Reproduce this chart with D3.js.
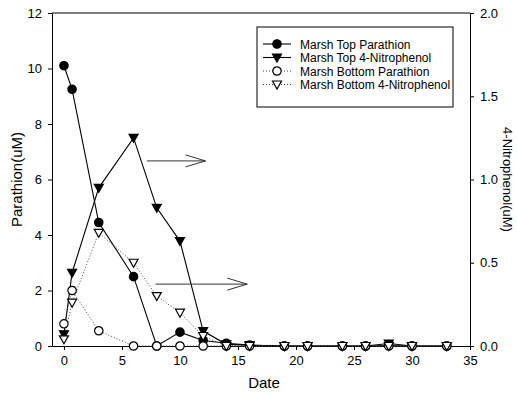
<!DOCTYPE html>
<html>
<head>
<meta charset="utf-8">
<script src="https://cdn.jsdelivr.net/npm/d3@7"></script>
<style>
  body { margin: 0; background: #fff; }
  text { font-family: "Liberation Sans", Arial, sans-serif; fill: #000; }
</style>
</head>
<body>
<svg id="chart" width="517" height="396"></svg>
<script>
// Sampling dates (days)
const dates = [0, 0.7, 3, 6, 8, 10, 12, 14, 16, 19, 21, 24, 26, 28, 30, 33];

// Parathion (uM, left axis)
const topParathion = [10.1, 9.25, 4.45, 2.5, 0, 0.5, 0.2, 0.1, 0.03, 0, 0, 0, 0, 0.02, 0, 0];
const bottomParathion = [0.8, 2.0, 0.55, 0, 0, 0, 0, 0, 0, 0, 0, 0, 0, 0, 0, 0];

// 4-Nitrophenol (uM, right axis)
const topNitrophenol = [0.07, 0.44, 0.95, 1.25, 0.83, 0.63, 0.09, 0.01, 0.005, 0, 0, 0, 0, 0.015, 0, 0];
const bottomNitrophenol = [0.04, 0.26, 0.68, 0.5, 0.3, 0.2, 0.06, 0, 0, 0, 0, 0, 0, 0, 0, 0];

const xTicks = [0, 5, 10, 15, 20, 25, 30, 35];
const leftTicks = [0, 2, 4, 6, 8, 10, 12];
const rightTicks = [0, 0.5, 1.0, 1.5, 2.0];

const svg = d3.select("#chart");
const margin = { top: 13, right: 47, bottom: 50, left: 52 };
const width = +svg.attr("width") - margin.left - margin.right;
const height = +svg.attr("height") - margin.top - margin.bottom;

const g = svg.append("g")
    .attr("transform", `translate(${margin.left},${margin.top})`);

// Scales
const x = d3.scaleLinear().domain([-1.03, 35]).range([0, width]);
const yL = d3.scaleLinear().domain([0, 12]).range([height, 0]);
const yR = d3.scaleLinear().domain([0, 2]).range([height, 0]);

// Frame top
g.append("line")
    .attr("x1", 0).attr("x2", width)
    .attr("y1", 0).attr("y2", 0)
    .attr("stroke", "#000").attr("stroke-width", 1);

// Axes
const xAxis = g.append("g")
    .attr("transform", `translate(0,${height})`)
    .call(d3.axisBottom(x).tickValues(xTicks).tickSize(4).tickSizeOuter(0).tickPadding(6));

const lAxis = g.append("g")
    .call(d3.axisLeft(yL).tickValues(leftTicks).tickSize(4).tickSizeOuter(0).tickPadding(6));

const rAxis = g.append("g")
    .attr("transform", `translate(${width},0)`)
    .call(d3.axisRight(yR).tickValues(rightTicks).tickFormat(d3.format(".1f")).tickSize(4).tickSizeOuter(0).tickPadding(6));

[xAxis, lAxis, rAxis].forEach(a => {
    a.selectAll("text").style("font-size", "13px").style("font-family", "'Liberation Sans', Arial, sans-serif");
    a.selectAll("path, line").attr("stroke", "#000");
});

// Axis labels
svg.append("text")
    .attr("transform", "rotate(-90)")
    .attr("x", -(margin.top + height / 2))
    .attr("y", 22)
    .attr("text-anchor", "middle")
    .style("font-size", "15px")
    .text("Parathion(uM)");

svg.append("text")
    .attr("transform", "rotate(90)")
    .attr("x", margin.top + height / 2)
    .attr("y", -503)
    .attr("text-anchor", "middle")
    .style("font-size", "13px")
    .text("4-Nitrophenol(uM)");

svg.append("text")
    .attr("x", 264)
    .attr("y", 388)
    .attr("text-anchor", "middle")
    .style("font-size", "15px")
    .text("Date");

// Series definitions
const series = [
    { name: "Marsh Top Parathion", values: topParathion, y: yL, filled: true, shape: "circle", dotted: false },
    { name: "Marsh Top 4-Nitrophenol", values: topNitrophenol, y: yR, filled: true, shape: "triangle", dotted: false },
    { name: "Marsh Bottom Parathion", values: bottomParathion, y: yL, filled: false, shape: "circle", dotted: true },
    { name: "Marsh Bottom 4-Nitrophenol", values: bottomNitrophenol, y: yR, filled: false, shape: "triangle", dotted: true }
];

const triPath = "M-4.5,-3.5L4.5,-3.5L0,4.5Z";

function drawMarker(sel, s) {
    if (s.shape === "circle") {
        sel.append("circle").attr("r", 4.2);
    } else {
        sel.append("path").attr("d", triPath);
    }
    sel.selectAll("circle, path")
        .attr("fill", s.filled ? "#000" : "#fff")
        .attr("stroke", "#000")
        .attr("stroke-width", 1.2);
}

// Draw dotted series first, solid ones on top of lines
series.forEach(s => {
    const line = d3.line()
        .x((d, i) => x(dates[i]))
        .y(d => s.y(d));
    g.append("path")
        .datum(s.values)
        .attr("fill", "none")
        .attr("stroke", s.dotted ? "#444" : "#000")
        .attr("stroke-width", s.dotted ? 1 : 1.1)
        .attr("stroke-dasharray", s.dotted ? "1,2" : null)
        .attr("d", line);
});

series.forEach(s => {
    g.selectAll(null)
        .data(s.values)
        .enter()
        .append("g")
        .attr("transform", (d, i) => `translate(${x(dates[i])},${s.y(d)})`)
        .each(function() { drawMarker(d3.select(this), s); });
});

// Arrows pointing to the right axis
const arrows = [
    { x0: 7.15, x1: 12.2, y: 6.67 },
    { x0: 7.9, x1: 15.8, y: 2.23 }
];
arrows.forEach(a => {
    const ax0 = x(a.x0), ax1 = x(a.x1), ay = yL(a.y);
    g.append("line")
        .attr("x1", ax0).attr("x2", ax1)
        .attr("y1", ay).attr("y2", ay)
        .attr("stroke", "#333").attr("stroke-width", 1);
    g.append("path")
        .attr("d", `M${ax1 - 20},${ay - 6}L${ax1},${ay}L${ax1 - 20},${ay + 6}`)
        .attr("fill", "none")
        .attr("stroke", "#333").attr("stroke-width", 1);
});

// Legend
const legend = svg.append("g").attr("transform", "translate(257,27)");
legend.append("rect")
    .attr("width", 196).attr("height", 80)
    .attr("fill", "#fff")
    .attr("stroke", "#000").attr("stroke-width", 1);

series.forEach((s, i) => {
    const row = legend.append("g").attr("transform", `translate(0,${17 + i * 13.5})`);
    row.append("line")
        .attr("x1", 6).attr("x2", 34)
        .attr("y1", 0).attr("y2", 0)
        .attr("stroke", s.dotted ? "#444" : "#000")
        .attr("stroke-width", 1.1)
        .attr("stroke-dasharray", s.dotted ? "1,2" : null);
    const m = row.append("g").attr("transform", "translate(20,0)");
    drawMarker(m, s);
    row.append("text")
        .attr("x", 43)
        .attr("y", 4.5)
        .style("font-size", "12px")
        .text(s.name);
});
</script>
</body>
</html>
